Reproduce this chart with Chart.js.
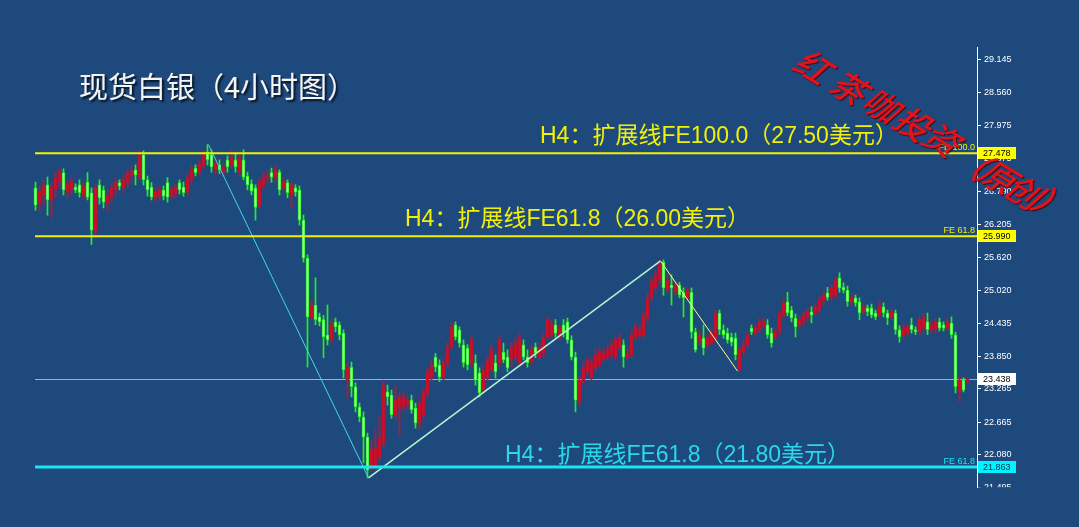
<!DOCTYPE html>
<html><head><meta charset="utf-8">
<script src="https://cdn.jsdelivr.net/npm/chart.js@4/dist/chart.umd.min.js"></script>
<style>html,body{margin:0;padding:0;background:#1e497d;overflow:hidden}#wrap{width:1079px;height:527px;position:relative}</style>
</head><body><div id="wrap"><canvas id="c" width="1079" height="527"></canvas></div>
<script>
// ---- data (silver, 4H candles) ----
const opens=[26.86,26.59,26.73,26.91,26.64,26.82,26.96,27.13,26.78,26.82,
26.87,26.91,26.73,26.96,26.77,26.07,26.91,26.82,26.59,26.68,
26.82,26.95,26.86,26.96,27.07,27.18,27.05,27.45,27.00,26.87,
26.68,26.71,26.82,26.95,26.71,26.77,26.95,26.87,26.78,27.00,
27.21,27.14,27.27,27.50,27.45,27.18,27.27,27.14,27.36,27.27,
27.36,27.14,27.36,27.07,26.93,26.86,26.55,26.91,27.04,27.13,
27.04,27.14,26.86,26.95,26.73,26.86,26.82,26.28,25.60,24.55,
24.76,24.55,24.50,24.23,24.14,24.46,24.41,24.26,23.42,23.65,
23.30,22.94,22.76,22.40,21.85,21.87,22.03,22.29,23.21,23.15,
22.80,22.94,22.94,22.99,23.06,22.92,22.65,22.80,23.19,23.47,
23.83,23.69,23.47,23.73,24.01,24.41,24.32,24.05,23.99,23.73,
23.73,23.55,23.24,23.47,23.60,23.73,23.73,23.92,23.83,23.78,
23.83,23.73,24.05,23.83,23.74,24.01,23.83,23.90,24.19,24.23,
24.41,24.19,24.41,24.46,24.14,23.83,23.03,23.39,23.57,23.47,
23.64,23.69,23.78,23.83,23.87,23.83,24.01,24.05,23.82,23.87,
24.19,24.23,24.23,24.53,24.89,25.07,25.21,25.53,25.03,25.12,
24.99,25.12,24.99,24.90,24.99,24.28,24.10,24.17,24.05,24.08,
24.17,24.62,24.32,24.26,24.19,24.17,23.60,23.92,24.05,24.35,
24.26,24.32,24.41,24.41,24.26,24.17,24.28,24.58,24.82,24.67,
24.53,24.41,24.46,24.53,24.64,24.62,24.67,24.82,24.98,24.90,
24.94,25.25,25.08,25.03,24.82,24.89,24.82,24.66,24.71,24.71,
24.62,24.58,24.73,24.62,24.53,24.62,24.32,24.23,24.26,24.41,
24.32,24.28,24.35,24.46,24.32,24.32,24.46,24.41,24.35,24.44,
24.23,23.21,23.42,23.40];
const closes=[26.55,26.78,26.89,26.64,26.86,27.04,27.14,26.82,26.93,26.96,
26.82,26.77,26.89,26.69,26.10,26.86,26.68,26.60,26.71,26.86,
26.95,26.89,27.00,27.11,27.16,27.09,27.45,27.00,26.82,26.69,
26.78,26.82,26.71,26.69,26.82,26.86,26.82,26.77,27.04,27.18,
27.13,27.30,27.45,27.36,27.23,27.30,27.18,27.23,27.23,27.41,
27.23,27.39,27.05,26.91,26.80,26.51,26.96,27.05,27.09,27.05,
27.18,26.82,26.96,26.77,26.91,26.78,26.28,25.60,24.55,24.76,
24.50,24.46,24.19,24.14,24.41,24.37,24.23,23.60,23.64,23.30,
22.94,22.76,22.40,21.81,22.17,22.22,22.38,23.33,23.12,22.80,
23.06,23.12,23.12,23.06,22.89,22.65,23.01,23.21,23.57,23.69,
23.65,23.47,23.73,24.01,24.37,24.19,24.08,23.73,23.69,24.14,
23.42,23.19,23.60,23.78,23.96,23.57,24.14,23.78,23.64,24.01,
24.08,24.19,23.83,23.73,23.96,23.90,24.01,24.19,24.50,24.44,
24.26,24.35,24.26,24.14,23.83,23.06,23.42,23.65,23.78,23.73,
23.87,23.92,23.90,23.96,24.05,24.14,24.19,23.83,23.90,24.23,
24.37,24.32,24.58,24.89,25.17,25.30,25.51,25.07,25.21,25.07,
25.12,24.94,24.89,25.03,24.28,23.96,24.23,23.99,24.19,24.26,
24.62,24.32,24.23,24.14,24.10,23.87,23.96,24.05,24.23,24.28,
24.35,24.46,24.46,24.23,24.08,24.28,24.62,24.80,24.62,24.53,
24.37,24.50,24.57,24.64,24.58,24.73,24.85,24.94,24.90,25.07,
25.21,25.07,25.03,24.82,24.89,24.80,24.62,24.73,24.64,24.58,
24.55,24.76,24.62,24.53,24.64,24.32,24.19,24.35,24.37,24.32,
24.28,24.50,24.53,24.32,24.41,24.46,24.35,24.35,24.46,24.23,
23.30,23.42,23.24,23.44];
const highs=[26.96,26.89,27.00,27.05,26.93,27.14,27.23,27.20,27.00,27.04,
26.93,27.00,26.96,27.13,26.86,26.91,27.00,26.89,26.82,26.91,
27.04,27.00,27.09,27.18,27.25,27.27,27.54,27.52,27.07,26.95,
26.86,26.89,26.89,27.04,26.89,26.93,27.00,26.96,27.11,27.25,
27.27,27.36,27.54,27.63,27.54,27.39,27.36,27.30,27.43,27.54,
27.48,27.50,27.54,27.14,27.00,26.91,27.04,27.13,27.18,27.21,
27.27,27.18,27.04,27.00,26.96,26.91,26.89,26.37,25.66,24.85,
25.25,24.62,24.58,24.76,24.50,24.53,24.46,24.32,23.73,23.74,
23.37,23.01,22.85,22.47,22.35,22.53,22.80,23.42,23.33,23.24,
23.33,23.19,23.21,23.13,23.15,23.01,23.10,23.28,23.64,23.78,
23.90,23.78,23.82,24.10,24.46,24.46,24.37,24.14,24.05,24.21,
23.87,23.64,23.69,23.87,24.05,23.87,24.23,24.08,23.96,24.10,
24.17,24.26,24.14,23.96,24.05,24.08,24.08,24.26,24.57,24.50,
24.50,24.41,24.50,24.53,24.21,23.92,23.51,23.74,23.83,23.82,
23.96,24.01,23.99,24.05,24.14,24.19,24.26,24.14,23.99,24.32,
24.44,24.41,24.67,24.98,25.25,25.39,25.57,25.57,25.30,25.30,
25.21,25.17,25.07,25.08,25.07,24.35,24.32,24.41,24.26,24.32,
24.67,24.67,24.41,24.35,24.26,24.26,24.01,24.14,24.28,24.41,
24.41,24.53,24.53,24.50,24.35,24.35,24.67,24.89,24.99,24.74,
24.60,24.58,24.64,24.71,24.73,24.80,24.92,25.03,25.08,25.12,
25.26,25.34,25.16,25.10,24.96,24.94,24.89,24.78,24.76,24.78,
24.67,24.85,24.80,24.67,24.71,24.67,24.39,24.41,24.44,24.53,
24.37,24.58,24.62,24.62,24.50,24.53,24.53,24.46,24.53,24.55,
24.28,23.49,23.46,23.47];
const lows=[26.46,26.43,26.55,26.37,26.32,26.68,26.86,26.73,26.69,26.73,
26.77,26.69,26.64,26.64,25.84,25.98,26.57,26.50,26.43,26.59,
26.73,26.82,26.78,26.87,26.96,26.91,27.00,26.91,26.71,26.64,
26.60,26.64,26.64,26.60,26.66,26.69,26.75,26.71,26.73,26.93,
27.07,27.07,27.21,27.27,27.14,27.09,27.11,27.07,27.14,27.21,
27.14,27.07,27.00,26.82,26.73,26.28,26.50,26.82,26.95,26.96,
26.96,26.73,26.78,26.68,26.51,26.71,26.19,25.53,23.65,24.50,
24.41,24.39,23.82,24.05,24.08,24.28,24.14,23.46,23.10,23.12,
22.85,22.67,21.94,21.67,21.78,21.81,21.96,22.22,22.97,22.74,
22.71,22.44,22.85,22.89,22.83,22.56,22.53,22.71,23.10,23.39,
23.57,23.39,23.42,23.65,23.96,24.14,24.01,23.65,23.60,23.65,
23.33,23.12,23.19,23.42,23.55,23.46,23.65,23.73,23.57,23.65,
23.78,23.65,23.78,23.65,23.69,23.82,23.78,23.83,24.14,24.17,
24.19,24.14,24.19,24.08,23.78,22.85,22.97,23.33,23.51,23.39,
23.57,23.64,23.74,23.78,23.82,23.78,23.96,23.65,23.78,23.82,
24.14,24.17,24.17,24.46,24.82,25.00,25.12,24.94,25.00,24.76,
24.94,24.89,24.55,24.85,24.17,23.92,24.05,23.87,23.99,24.05,
24.10,24.23,24.17,24.08,24.03,23.78,23.57,23.87,23.99,24.23,
24.21,24.26,24.35,24.17,24.01,24.14,24.23,24.53,24.57,24.46,
24.19,24.32,24.39,24.46,24.44,24.57,24.62,24.76,24.85,24.85,
24.89,24.99,24.98,24.74,24.76,24.74,24.50,24.60,24.57,24.53,
24.50,24.53,24.55,24.41,24.50,24.24,24.10,24.17,24.21,24.26,
24.23,24.23,24.28,24.23,24.26,24.26,24.30,24.30,24.30,24.17,
23.19,23.03,23.21,23.37];
const yTicks=[29.145,28.560,27.975,27.375,26.790,26.205,25.620,25.020,24.435,23.850,23.265,22.665,22.080,21.495];
const levelValues=[27.478,25.990,21.863];
const levelTags=['FE 100.0','FE 61.8','FE 61.8'];
const lastPrice=23.438;
const waveX=[43.25,83.25,156.25,175.5];
const waveY=[27.63,21.67,25.55,23.58];
const titleText='现货白银（4小时图）';
const notes=['H4：扩展线FE100.0（27.50美元）','H4：扩展线FE61.8（26.00美元）','H4：扩展线FE61.8（21.80美元）'];
const watermark='红茶咖投资（原创）';

// ---- styles ----
const BG='#1e497d';
const G_EDGE='#1ff01f', G_FILL='#b6ffb0', RED='#c3122e';
const YEL='#f2f200', CYAN='#19e6f0';
const idx=opens.map((_,i)=>i);
const down=i=>closes[i]<opens[i];

const deco={
  id:'deco',
  beforeDraw(ch){const c=ch.ctx;c.save();c.fillStyle=BG;c.fillRect(0,0,ch.width,ch.height);c.restore();},
  beforeDatasetsDraw(ch){
    const c=ch.ctx,a=ch.chartArea,y=ch.scales.y;
    const py=Math.round(y.getPixelForValue(lastPrice))+0.5;
    c.save();c.strokeStyle='#9fb0c8';c.lineWidth=1;c.beginPath();c.moveTo(a.left+2,py);c.lineTo(a.right,py);c.stroke();c.restore();
  },
  afterDatasetsDraw(ch){
    const c=ch.ctx,a=ch.chartArea,y=ch.scales.y;
    const cols=[YEL,YEL,CYAN], widths=[2,2,3];
    c.save();
    levelValues.forEach((v,k)=>{
      const py=y.getPixelForValue(v);
      c.strokeStyle=cols[k];c.lineWidth=widths[k];
      c.beginPath();c.moveTo(a.left+2,py);c.lineTo(a.right,py);c.stroke();
      c.fillStyle=cols[k];c.font='9px "Liberation Sans", Arial, sans-serif';
      c.textAlign='right';c.textBaseline='bottom';
      c.fillText(levelTags[k],a.right-2,py-1);
    });
    // notes
    c.textAlign='left';c.textBaseline='middle';
    c.font='23px "Liberation Sans", "Noto Sans CJK SC", sans-serif';
    c.fillStyle=YEL;
    c.fillText(notes[0],540,137);
    c.fillText(notes[1],405,220);
    c.fillStyle='#2ad8ea';
    c.fillText(notes[2],505,456);
    // title
    c.font='29px "Noto Sans CJK SC", sans-serif';
    c.shadowColor='rgba(0,0,0,0.75)';c.shadowOffsetX=2;c.shadowOffsetY=2;c.shadowBlur=2;
    c.fillStyle='#f4f4f4';
    c.fillText(titleText,79,87);
    c.restore();
  },
  afterDraw(ch){
    const c=ch.ctx,a=ch.chartArea,y=ch.scales.y;
    c.save();
    // clip bottom tick label like reference
    c.fillStyle=BG;c.fillRect(a.right+1,a.bottom-0.5,ch.width-a.right,ch.height-a.bottom+1);
    // price tags
    const tags=[[levelValues[0],'#ffff00','#000'],[levelValues[1],'#ffff00','#000'],[levelValues[2],'#00f4ff','#02304a'],[lastPrice,'#ffffff','#000']];
    c.font='9px "Liberation Sans", Arial, sans-serif';c.textBaseline='middle';c.textAlign='left';
    tags.forEach(t=>{
      const py=Math.round(y.getPixelForValue(t[0]));
      c.fillStyle=t[1];c.fillRect(a.right+1,py-6,38,12);
      c.fillStyle=t[2];c.fillText(t[0].toFixed(3),a.right+6,py+0.5);
    });
    // watermark
    const pos=[[815,68],[851,89],[884,107],[915,125],[944,141],[974,163],[1000,178],[1026,193],[1054,206]];
    const chars=Array.from(watermark);
    c.fillStyle='#e3121b';c.shadowColor='rgba(60,0,0,0.8)';c.shadowOffsetX=1;c.shadowOffsetY=1;c.shadowBlur=1;
    c.textAlign='center';c.textBaseline='middle';
    chars.forEach((ch2,k)=>{
      c.save();c.translate(pos[k][0],pos[k][1]);c.rotate(0.55);c.transform(1,0,-0.3,1,0,0);
      c.font='500 34px "Noto Sans CJK SC", sans-serif';
      c.fillText(ch2,0,0);c.restore();
    });
    c.restore();
  }
};

const waveSeg=(a,b)=>[{x:waveX[a],y:waveY[a]},{x:waveX[b],y:waveY[b]}];

new Chart(document.getElementById('c'),{
  data:{datasets:[
    {type:'bar',data:idx.map(i=>({x:i,y:[lows[i],highs[i]]})),backgroundColor:idx.map(i=>down(i)?G_EDGE:RED),barThickness:1,grouped:false,borderWidth:0,order:3},
    {type:'bar',data:idx.map(i=>({x:i,y:[opens[i],closes[i]]})),backgroundColor:idx.map(i=>down(i)?G_FILL:RED),borderColor:idx.map(i=>down(i)?G_EDGE:RED),borderWidth:1,borderSkipped:false,barThickness:3,minBarLength:1,grouped:false,order:2},
    {type:'line',data:waveSeg(0,1),borderColor:'#3fd8ee',borderWidth:1,pointRadius:0,order:1},
    {type:'line',data:waveSeg(1,2),borderColor:'#b8f6d2',borderWidth:1.5,pointRadius:0,order:1},
    {type:'line',data:waveSeg(2,3),borderColor:'#ffff8a',borderWidth:1,pointRadius:0,order:1}
  ]},
  options:{
    responsive:false,animation:false,devicePixelRatio:1,
    layout:{padding:{left:33,top:47,right:0,bottom:39.3}},
    plugins:{legend:{display:false},tooltip:{enabled:false}},
    scales:{
      x:{type:'linear',display:false,min:-0.625,max:235.375,offset:false},
      y:{position:'right',min:21.495,max:29.377,
        afterBuildTicks:s=>{s.ticks=yTicks.map(v=>({value:v}));},
        afterFit:s=>{s.width=102;},
        ticks:{color:'#ffffff',padding:3,font:{family:'"Liberation Sans", Arial, sans-serif',size:9},callback:v=>Number(v).toFixed(3)},
        grid:{drawOnChartArea:false,drawTicks:true,tickLength:4,color:'#ffffff'},
        border:{display:true,color:'#ffffff',width:1}}
    }
  },
  plugins:[deco]
});
</script></body></html>
